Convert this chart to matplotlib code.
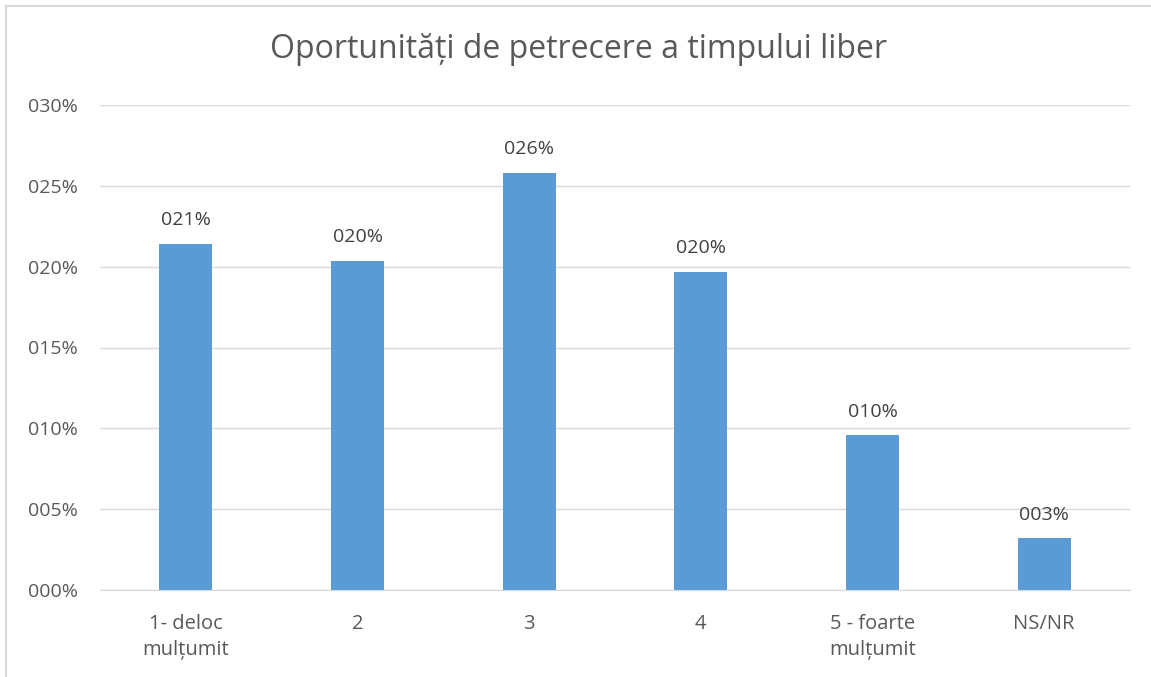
import matplotlib
matplotlib.use('Agg')
from matplotlib import pyplot as plt
from matplotlib.lines import Line2D
import numpy as np

plt.rcParams['font.family'] = ['Open Sans', 'DejaVu Sans']

# Data
categories = ['1- deloc\nmulțumit', '2', '3', '4', '5 - foarte\nmulțumit', 'NS/NR']
values = [0.214, 0.2035, 0.258, 0.1967, 0.0958, 0.0321]
yticks = [0, 0.05, 0.10, 0.15, 0.20, 0.25, 0.30]

bar_color = '#5B9BD5'
text_color = '#595959'
grid_color = '#D9D9D9'

fig = plt.figure(figsize=(11.51, 6.77), dpi=100)
ax = fig.add_axes([100 / 1151, 87 / 677, 1030 / 1151, 485 / 677])

x = np.arange(len(categories))
ax.bar(x, values, width=0.31, color=bar_color, zorder=3)

for xi, v in zip(x, values):
    ax.text(xi, v + 0.009, f'{v * 100:03.0f}%', ha='center', va='bottom',
            fontsize=14, color='#404040')

ax.set_xlim(-0.5, len(categories) - 0.5)
ax.set_ylim(0, 0.30)
ax.set_yticks(yticks)
ax.set_yticklabels([f'{t * 100:03.0f}%' for t in yticks])
ax.set_xticks(x)
ax.set_xticklabels(categories, linespacing=1.4)
ax.tick_params(axis='y', length=0, labelsize=14, colors=text_color, pad=16)
ax.tick_params(axis='x', length=0, labelsize=14.5, colors=text_color, pad=17)
for lbl in ax.get_xticklabels():
    lbl.set_va('top')

ax.grid(axis='y', color=grid_color, linewidth=1, zorder=0)
for side in ['top', 'right', 'left']:
    ax.spines[side].set_visible(False)
ax.spines['bottom'].set_color(grid_color)
ax.spines['bottom'].set_zorder(4)

fig.text(579 / 1151, 1 - 50 / 677, 'Oportunități de petrecere a timpului liber',
         ha='center', va='center', fontsize=23, color=text_color)

# outer frame on left and top
fig.add_artist(Line2D([6 / 1151, 6 / 1151], [0, 1 - 6 / 677], color=grid_color, linewidth=1.5,
                      transform=fig.transFigure))
fig.add_artist(Line2D([6 / 1151, 1], [1 - 6 / 677, 1 - 6 / 677], color=grid_color, linewidth=1.5,
                      transform=fig.transFigure))

fig.savefig('out.png', dpi=100)
